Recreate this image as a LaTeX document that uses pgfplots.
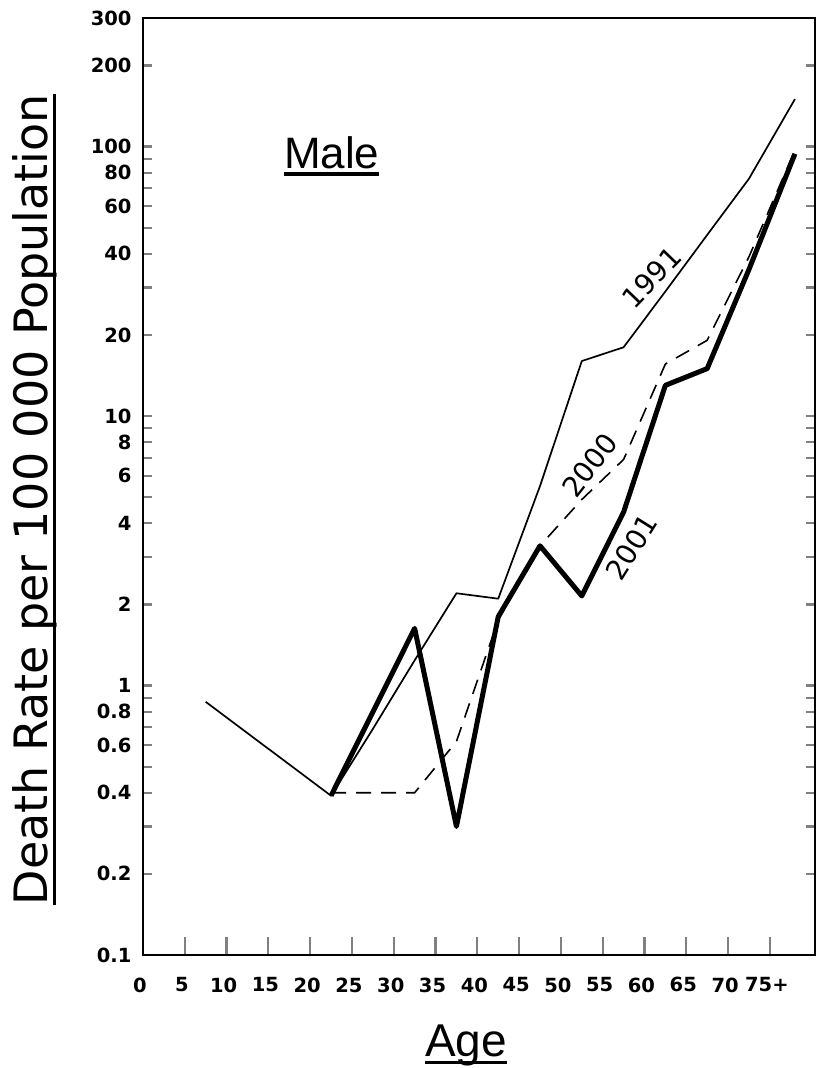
\documentclass[border=0pt]{standalone}
\usepackage{fontspec}
\setmainfont{Liberation Sans}
\newfontfamily\dejavu{DejaVu Sans}
\usepackage{pgfplots}
\pgfplotsset{compat=1.18}
\newcommand{\myul}[2][4pt]{\setbox0=\hbox{#2}\leavevmode\rlap{\vrule height -#1 depth \dimexpr#1+3.5pt\relax width \wd0}\box0}
\begin{document}
\begin{tikzpicture}
\useasboundingbox (-143pt,-113pt) rectangle (673pt,955pt);
\begin{axis}[
  name=ax, at={(0,0)}, anchor=south west,
  scale only axis, width=672pt, height=937pt,
  xmin=0, xmax=80.4,
  ymode=log, ymin=0.1, ymax=300,
  axis line style={line width=2.6pt},
  xtick={0,5,...,75},
  xticklabels={0,5,10,15,20,25,30,35,40,45,50,55,60,65,70,75+},
  ytick={0.1,0.2,0.3,0.4,0.5,0.6,0.7,0.8,0.9,1,2,3,4,5,6,7,8,9,10,20,30,40,50,60,70,80,90,100,200,300},
  yticklabels={0.1,0.2,,0.4,,0.6,,0.8,,1,2,,4,,6,,8,,10,20,,40,,60,,80,,100,200,300},
  minor ytick={},
  xtick pos=bottom,
  ytick pos=both,
  tick align=inside,
  major tick length=9pt,
  xtick style={line width=2.2pt, /pgfplots/major tick length=18pt},
  ytick style={line width=2.2pt},
  xticklabel style={font=\dejavu\fontsize{19.5}{23}\selectfont\bfseries, yshift=-19pt, xshift=-3pt},
  yticklabel style={font=\dejavu\fontsize{19.5}{23}\selectfont\bfseries, xshift=-8pt},
  xlabel={\myul[4.5pt]{Age}},
  xlabel style={font=\fontsize{46}{50}\selectfont, at={(axis description cs:0.4807,-0.1078)}, anchor=base},
  ylabel={\myul[5pt]{Death Rate per 100 000 Population}},
  ylabel style={font=\dejavu\fontsize{46}{50}\selectfont, at={(axis description cs:-0.1414,0.486)}, anchor=base, rotate=0},
  clip=false,
]
\addplot[black, line width=1.6pt, dash pattern=on 15pt off 10pt, line join=round] coordinates {
  (22.5,0.4) (27.5,0.4) (32.5,0.4) (37.5,0.62) (42.5,1.75) (47.5,3.3)
  (52.5,4.9) (57.5,6.9) (62.5,15.6) (67.5,19.1) (72.5,39) (78,97)
};
\addplot[black, line width=1.7pt, line join=round] coordinates {
  (7.5,0.87) (22.5,0.39) (27.5,0.69) (32.5,1.24) (37.5,2.2) (42.5,2.1)
  (47.5,5.5) (52.5,16) (57.5,18) (62.5,29) (67.5,47) (72.5,76) (78,150)
};
\addplot[black, line width=5pt, line join=round] coordinates {
  (22.5,0.39) (32.5,1.63) (37.5,0.30) (42.5,1.8) (47.5,3.3) (52.5,2.15)
  (57.5,4.4) (62.5,13) (67.5,15) (72.5,35) (78,94)
};
\node[font=\fontsize{44}{48}\selectfont, anchor=base] at (axis description cs:0.2808,0.8399) {\myul[4pt]{Male}};
\node[font=\dejavu\fontsize{28}{32}\selectfont, rotate=46] at (axis cs:60.85,32.7) {1991};
\node[font=\dejavu\fontsize{28}{32}\selectfont, rotate=52] at (axis cs:53.47,6.55) {2000};
\node[font=\dejavu\fontsize{28}{32}\selectfont, rotate=58] at (axis cs:58.46,3.26) {2001};
\end{axis}
\end{tikzpicture}
\end{document}
